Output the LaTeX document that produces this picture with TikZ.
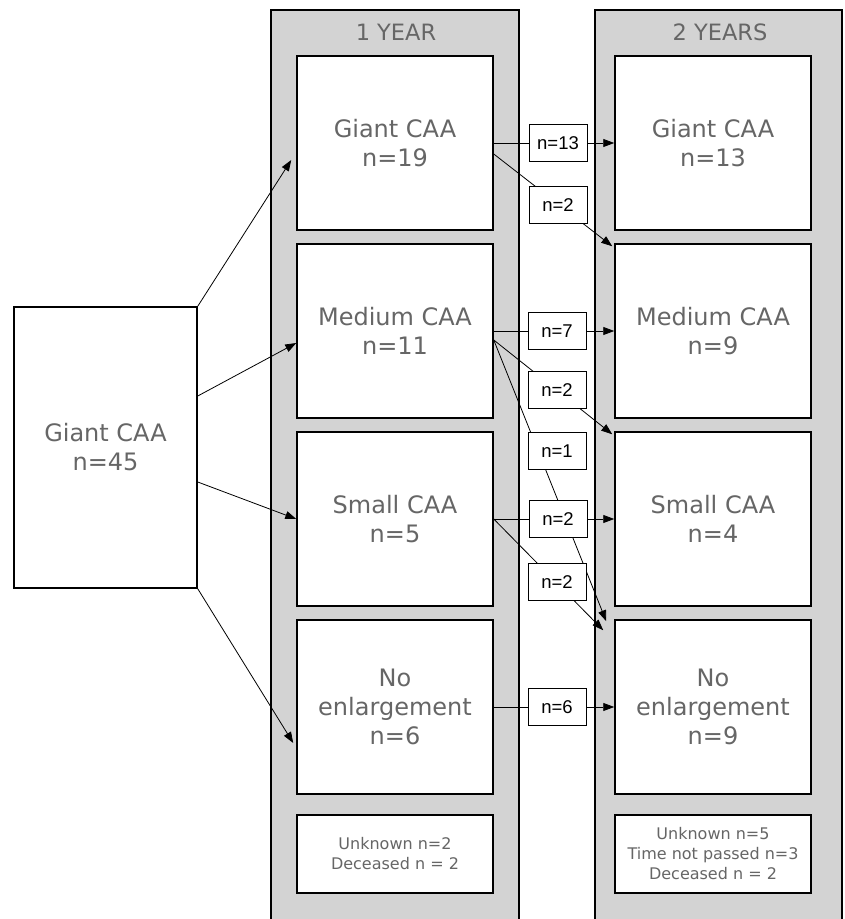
\documentclass[tikz,border=0pt]{standalone}
\usepackage{fontspec}
\setmainfont{DejaVu Sans}
\newfontfamily\countfont{Liberation Sans}
\usetikzlibrary{positioning}
\usetikzlibrary{arrows.meta}
\definecolor{colgray}{HTML}{D3D3D3}
\definecolor{txtgray}{HTML}{666666}

\begin{document}
\begin{tikzpicture}[x=1pt,y=-1pt,
		column/.style={draw=black, line width=1.5pt, fill=colgray, minimum width=248pt, minimum height=925pt, inner sep=0pt},
		header/.style={text=txtgray, inner sep=0pt, font=\fontsize{22.5}{26}\selectfont},
		stage/.style={draw=black, line width=1.5pt, fill=white, minimum width=196pt, minimum height=174pt, text=txtgray, align=center, font=\fontsize{24}{29}\selectfont},
		note/.style={stage, minimum height=78pt, font=\fontsize{16}{20}\selectfont},
		count/.style={draw=black, line width=0.8pt, fill=white, minimum width=58pt, minimum height=37pt, inner sep=0pt, font=\countfont\fontsize{18.5}{20}\selectfont},
		flow/.style={draw=black, line width=0.8pt, -{Triangle[length=11pt,width=8pt]}},
	]
	\useasboundingbox (0,0) rectangle (845,919);
	% Draw year columns
	\node (year1) [column] at (395,472.5) {};
	\node (year2) [column, minimum width=247pt] at (718.5,472.5) {};
	\node (hd1) [header] at (396,32) {1 YEAR};
	\node (hd2) [header] at (720,32) {2 YEARS};
	% Draw diagram elements
	\node (start) [stage, minimum width=183pt, minimum height=281pt] at (105.5,447.5) {Giant CAA\\n=45};
	\node (g1) [stage] at (395,143) {Giant CAA\\n=19};
	\node (m1) [stage, below=12.5pt of g1] {Medium CAA\\n=11};
	\node (s1) [stage, below=12.5pt of m1] {Small CAA\\n=5};
	\node (n1) [stage, below=12.5pt of s1] {No\\enlargement\\n=6};
	\node (u1) [note, below=19.5pt of n1] {Unknown n=2\\Deceased n = 2};
	\node (g2) [stage, right=120.5pt of g1] {Giant CAA\\n=13};
	\node (m2) [stage, right=120.5pt of m1] {Medium CAA\\n=9};
	\node (s2) [stage, right=120.5pt of s1] {Small CAA\\n=4};
	\node (n2) [stage, right=120.5pt of n1] {No\\enlargement\\n=9};
	\node (u2) [note, right=120.5pt of u1] {Unknown n=5\\Time not passed n=3\\Deceased n = 2};
	% Draw arrows between elements
	\draw[flow] (start.north east) -- ([xshift=-5pt,yshift=-17pt]g1.west);
	\draw[flow] ([yshift=51.5pt]start.east) -- ([yshift=-12pt]m1.west);
	\draw[flow] ([yshift=-34.5pt]start.east) -- (s1.west);
	\draw[flow] (start.south east) -- ([xshift=-3pt,yshift=-36pt]n1.west);
	\draw[flow] (g1.east) -- (g2.west);
	\draw[flow] ([yshift=-11pt]g1.east) -- ([xshift=-2pt,yshift=-3pt]m2.north west);
	\draw[flow] (m1.east) -- (m2.west);
	\draw[flow] ([yshift=-9pt]m1.east) -- ([xshift=-2pt,yshift=-3pt]s2.north west);
	\draw[flow] ([yshift=-9pt]m1.east) -- ([xshift=-8pt,yshift=-2pt]n2.north west);
	\draw[flow] (s1.east) -- (s2.west);
	\draw[flow] (s1.east) -- ([xshift=-11pt,yshift=-11pt]n2.north west);
	\draw[flow] (n1.east) -- (n2.west);
	% Counts on the arrows
	\node (c13) [count] at (558,143) {n=13};
	\node (c2a) [count] at (558,205) {n=2};
	\node (c7) [count] at (557,331) {n=7};
	\node (c2b) [count] at (557,390) {n=2};
	\node (c1) [count] at (557,451) {n=1};
	\node (c2c) [count] at (558,519) {n=2};
	\node (c2d) [count] at (557,582) {n=2};
	\node (c6) [count] at (557,707) {n=6};
\end{tikzpicture}
\end{document}
